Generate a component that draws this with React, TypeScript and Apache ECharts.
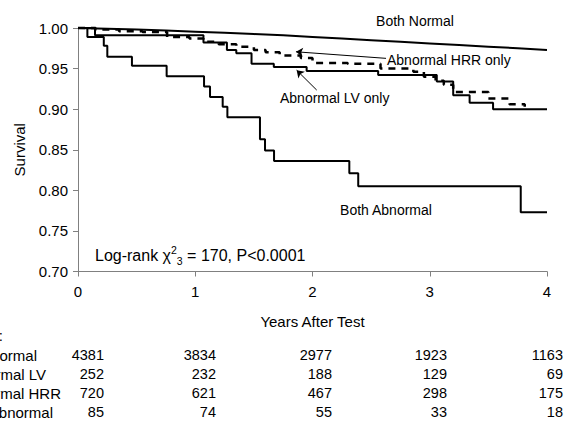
import React, { useEffect, useRef } from "react";
import * as echarts from "echarts";

// ---- data ----
const yearTicks = [0, 1, 2, 3, 4];
const bothNormal: [number, number][] = [
  [0, 1.0], [0.25, 0.999], [0.5, 0.998], [0.75, 0.997], [1.0, 0.9955], [1.25, 0.994],
  [1.5, 0.9925], [1.75, 0.991], [2.0, 0.989], [2.25, 0.987], [2.5, 0.985], [2.75, 0.983],
  [3.0, 0.981], [3.25, 0.979], [3.5, 0.977], [3.75, 0.975], [4.0, 0.973],
];
const abnormalLV: [number, number][] = [
  [0, 1.0], [0.145, 0.991], [1.07, 0.982], [1.27, 0.973], [1.35, 0.969], [1.48, 0.956],
  [1.67, 0.952], [1.95, 0.947], [2.56, 0.942], [3.06, 0.934], [3.2, 0.917], [3.34, 0.908],
  [3.54, 0.9], [4.0, 0.9],
];
const abnormalHRR: [number, number][] = [
  [0, 1.0], [0.15, 0.998], [0.35, 0.996], [0.55, 0.995], [0.76, 0.989], [0.95, 0.987],
  [1.07, 0.983], [1.2, 0.98], [1.35, 0.977], [1.5, 0.973], [1.6, 0.97], [1.72, 0.966],
  [1.9, 0.963], [2.0, 0.957], [2.3, 0.956], [2.58, 0.95], [2.86, 0.946], [2.95, 0.94],
  [3.05, 0.935], [3.12, 0.93], [3.2, 0.921], [3.5, 0.913], [3.68, 0.906], [3.81, 0.903],
];
const bothAbnormal: [number, number][] = [
  [0, 1.0], [0.08, 0.989], [0.22, 0.978], [0.25, 0.9646], [0.46, 0.9535], [0.756, 0.9407],
  [1.075, 0.928], [1.126, 0.915], [1.234, 0.903], [1.274, 0.89], [1.552, 0.863],
  [1.595, 0.849], [1.672, 0.836], [2.314, 0.821], [2.39, 0.805], [3.776, 0.773], [4.0, 0.773],
];
// annotation arrows, in data coordinates: [from, to]
const arrowHRR: [[number, number], [number, number]] = [[2.627, 0.9626], [1.859, 0.9707]];
const arrowLV: [[number, number], [number, number]] = [[2.036, 0.9235], [1.865, 0.948]];

const atRiskHeader = "Number at risk:";
const atRiskLabels = ["Both Normal", "Abnormal LV", "Abnormal HRR", "Both Abnormal"];
const atRiskBothNormal = [4381, 3834, 2977, 1923, 1163];
const atRiskAbnLV = [252, 232, 188, 129, 69];
const atRiskAbnHRR = [720, 621, 467, 298, 175];
const atRiskBothAbn = [85, 74, 55, 33, 18];

// ---- layout (styles/positions) ----
const FONT = "'Liberation Sans', Arial, sans-serif";
const colRight = [104, 216, 332, 447, 563];
const rowY = [355, 374, 393, 412];
const labelRight = [37, 46, 61, 53];

export default function App() {
  const ref = useRef<HTMLDivElement>(null);
  useEffect(() => {
    document.body.style.margin = "0";
    if (!ref.current) return;
    const chart = echarts.init(ref.current, null, { renderer: "svg" });
    const rows = [atRiskBothNormal, atRiskAbnLV, atRiskAbnHRR, atRiskBothAbn];
    const tableTexts: any[] = [];
    tableTexts.push({
      type: "text",
      x: 3,
      y: 335,
      style: { text: atRiskHeader, fill: "#000", fontSize: 15, fontFamily: FONT, align: "right", verticalAlign: "middle" },
    });
    rows.forEach((r, i) => {
      tableTexts.push({
        type: "text",
        x: labelRight[i],
        y: rowY[i],
        style: { text: atRiskLabels[i], fill: "#000", fontSize: 15, fontFamily: FONT, align: "right", verticalAlign: "middle" },
      });
      r.forEach((v, j) => {
        tableTexts.push({
          type: "text",
          x: colRight[j],
          y: rowY[i],
          style: { text: String(v), fill: "#000", fontSize: 14.5, fontFamily: FONT, align: "right", verticalAlign: "middle" },
        });
      });
    });
    const lineBase = { type: "line", symbol: "none", showSymbol: false, silent: true, clip: false };
    const option: any = {
      animation: false,
      grid: { left: 78, right: 20, top: 28, bottom: 151.5 },
      xAxis: {
        type: "value",
        min: yearTicks[0],
        max: yearTicks[yearTicks.length - 1],
        interval: 1,
        name: "Years After Test",
        nameLocation: "middle",
        nameGap: 42,
        nameTextStyle: { color: "#000", fontSize: 15, fontFamily: FONT },
        axisLine: { show: true, onZero: false, lineStyle: { color: "#808080", width: 1 } },
        axisTick: { show: true, length: 5, lineStyle: { color: "#808080" } },
        axisLabel: { color: "#000", fontSize: 15, fontFamily: FONT, margin: 12 },
        splitLine: { show: false },
      },
      yAxis: {
        type: "value",
        min: 0.7,
        max: 1.0,
        interval: 0.05,
        name: "Survival",
        nameLocation: "middle",
        nameRotate: 90,
        nameGap: 51,
        nameTextStyle: { color: "#000", fontSize: 15, fontFamily: FONT },
        axisLine: { show: true, lineStyle: { color: "#808080", width: 1 } },
        axisTick: { show: true, length: 5, lineStyle: { color: "#808080" } },
        axisLabel: { color: "#000", fontSize: 15, fontFamily: FONT, margin: 10, formatter: (v: number) => v.toFixed(2) },
        splitLine: { show: false },
      },
      series: [
        {
          ...lineBase,
          name: "Both Normal",
          data: bothNormal,
          lineStyle: { color: "#000", width: 2 },
          markLine: {
            silent: true,
            symbol: ["none", "arrow"],
            symbolSize: 7,
            label: { show: false },
            lineStyle: { color: "#000", width: 1, type: "solid" },
            emphasis: { disabled: true },
            data: [
              [{ coord: arrowHRR[0] }, { coord: arrowHRR[1] }],
              [{ coord: arrowLV[0] }, { coord: arrowLV[1] }],
            ],
          },
        },
        { ...lineBase, name: "Abnormal LV only", data: abnormalLV, step: "end", lineStyle: { color: "#000", width: 2 } },
        { ...lineBase, name: "Abnormal HRR only", data: abnormalHRR, step: "end", lineStyle: { color: "#000", width: 2.5, type: [7, 6] } },
        { ...lineBase, name: "Both Abnormal", data: bothAbnormal, step: "end", lineStyle: { color: "#000", width: 2 } },
      ],
      graphic: [
        { type: "text", x: 415, y: 21, style: { text: "Both Normal", fill: "#000", fontSize: 14, fontFamily: FONT, align: "center", verticalAlign: "middle" } },
        { type: "text", x: 387, y: 60, style: { text: "Abnormal HRR only", fill: "#000", fontSize: 14, fontFamily: FONT, align: "left", verticalAlign: "middle" } },
        { type: "text", x: 280, y: 98, style: { text: "Abnormal LV only", fill: "#000", fontSize: 14, fontFamily: FONT, align: "left", verticalAlign: "middle" } },
        { type: "text", x: 386, y: 210, style: { text: "Both Abnormal", fill: "#000", fontSize: 14, fontFamily: FONT, align: "center", verticalAlign: "middle" } },
        {
          type: "text",
          x: 95,
          y: 255,
          style: {
            text: "Log-rank {chi|χ}{sup|2}{sub|3} = 170, P<0.0001",
            fill: "#000",
            fontSize: 16,
            fontFamily: FONT,
            align: "left",
            verticalAlign: "middle",
            lineHeight: 22,
            rich: {
              chi: { fontSize: 16, fontFamily: FONT, fill: "#000", lineHeight: 22 },
              sup: { fontSize: 10.5, fontFamily: FONT, fill: "#000", verticalAlign: "top", lineHeight: 12 },
              sub: { fontSize: 10.5, fontFamily: FONT, fill: "#000", verticalAlign: "bottom", lineHeight: 12 },
            },
          },
        },
        ...tableTexts,
      ],
    };
    chart.setOption(option);
    return () => chart.dispose();
  }, []);
  return <div ref={ref} style={{ width: 567, height: 423 }} />;
}
